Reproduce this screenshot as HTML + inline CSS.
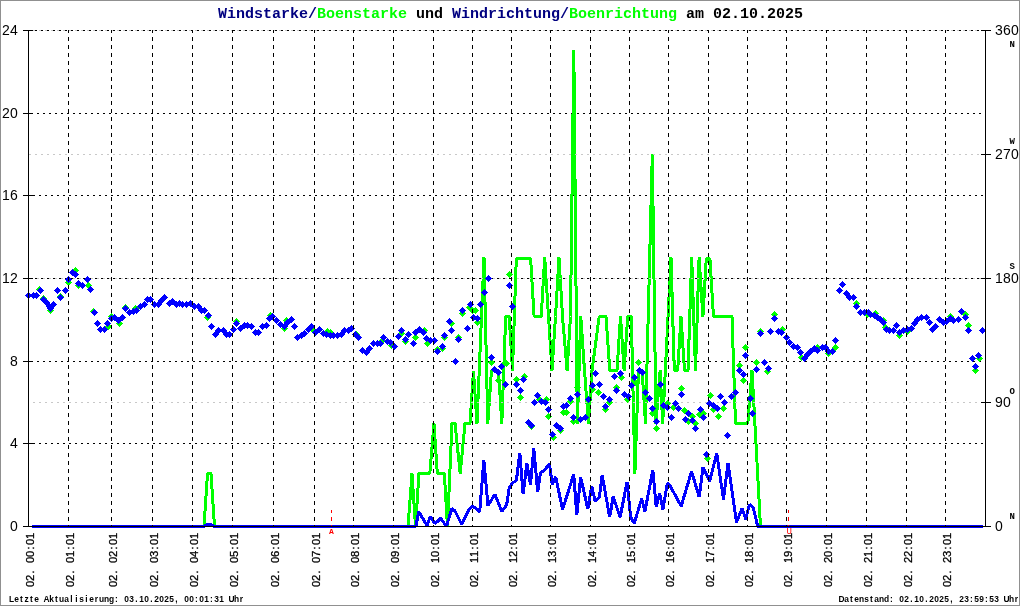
<!DOCTYPE html><html><head><meta charset="utf-8"><style>
html,body{margin:0;padding:0;background:#fff;}svg{display:block;}
.ax{font-family:"Liberation Sans",sans-serif;font-size:14px;fill:#000;}
.tl{font-family:"Liberation Mono",monospace;font-size:15px;font-weight:bold;}
.xl{font-family:"Liberation Sans",sans-serif;font-size:11.2px;fill:#000;stroke:#000;stroke-width:0.3px;}
.ft{font-family:"Liberation Sans",sans-serif;font-size:8.4px;font-weight:bold;fill:#000;}
.cd{font-family:"Liberation Mono",monospace;font-size:9px;font-weight:bold;fill:#000;}
</style></head><body>
<svg width="1020" height="606" viewBox="0 0 1020 606">
<rect x="0" y="0" width="1020" height="606" fill="#fff"/>
<g shape-rendering="crispEdges" fill="#909090">
<rect x="0" y="0" width="1020" height="1"/><rect x="0" y="605" width="1020" height="1"/>
<rect x="0" y="0" width="1" height="606"/><rect x="1019" y="0" width="1" height="606"/>
</g>
<text class="tl" x="218" y="18" textLength="585" lengthAdjust="spacing"><tspan fill="#000080">Windstarke/</tspan><tspan fill="#00ff00">Boenstarke</tspan><tspan fill="#000"> und </tspan><tspan fill="#000080">Windrichtung/</tspan><tspan fill="#00ff00">Boenrichtung</tspan><tspan fill="#000"> am 02.10.2025</tspan></text>
<g shape-rendering="crispEdges" stroke-width="1" fill="none" stroke="#000">
<line x1="29" y1="30.5" x2="985" y2="30.5" stroke-dasharray="2 4" stroke-dashoffset="0"/>
<line x1="29" y1="113.5" x2="985" y2="113.5" stroke-dasharray="2 4" stroke-dashoffset="4"/>
<line x1="29" y1="195.5" x2="985" y2="195.5" stroke-dasharray="2 4" stroke-dashoffset="2"/>
<line x1="29" y1="278.5" x2="985" y2="278.5" stroke-dasharray="2 4" stroke-dashoffset="0"/>
<line x1="29" y1="361.5" x2="985" y2="361.5" stroke-dasharray="2 4" stroke-dashoffset="4"/>
<line x1="29" y1="443.5" x2="985" y2="443.5" stroke-dasharray="2 4" stroke-dashoffset="2"/>
</g>
<g shape-rendering="crispEdges"><polyline points="31.5,526.5 204.0,526.5 207.5,473.5 211.0,473.5 214.5,526.5 408.0,526.5 412.0,473.5 415.5,526.5 419.0,473.5 422.5,473.5 426.0,473.5 429.8,473.5 434.0,423.5 437.3,473.5 440.8,473.5 444.3,473.5 447.5,526.5 452.0,423.5 455.0,423.5 460.2,473.5 465.0,423.5 470.0,423.5 473.5,371.0 477.0,423.5 484.0,257.5 487.8,423.5 491.5,370.5 495.0,370.5 498.5,370.5 501.8,423.5 505.7,316.5 509.2,316.5 512.5,370.5 516.3,258.5 519.9,258.5 523.5,258.5 527.1,258.5 530.6,258.5 534.1,316.5 537.6,316.5 541.2,316.5 544.7,257.5 548.5,316.5 552.0,370.5 555.5,316.5 559.0,257.5 562.5,316.5 567.1,370.5 570.5,316.5 573.8,50.5 577.3,423.5 580.8,316.5 584.5,370.5 588.5,423.5 592.0,370.5 599.2,316.5 602.8,316.5 606.0,316.5 609.8,370.5 613.5,370.5 617.0,370.5 620.5,316.5 624.1,370.5 627.7,316.5 631.3,316.5 634.9,473.5 638.5,370.5 642.1,370.5 645.5,423.5 652.3,154.5 656.0,423.5 660.1,370.5 662.7,423.5 671.0,257.5 674.3,370.5 677.7,370.5 681.0,316.5 684.5,370.5 688.0,370.5 691.7,257.5 695.5,370.5 699.1,257.5 702.9,316.5 706.3,258.5 709.9,258.5 713.5,316.5 732.0,316.5 735.5,423.5 747.8,423.5 752.0,370.5 760.5,526.5 982.5,526.5" fill="none" stroke="#00ff00" stroke-width="3" stroke-linejoin="bevel"/><polyline points="31.5,526.5 204.0,526.5 207.5,524.5 211.0,524.5 214.5,526.5 415.9,526.5 418.7,511.6 427.0,525.5 430.2,516.5 434.6,523.4 437.7,521.3 440.8,518.3 446.4,526.5 451.9,508.6 454.7,510.5 461.6,524.1 469.3,508.9 472.7,506.1 479.7,511.7 483.8,460.1 488.0,505.4 494.9,494.3 501.8,511.7 506.7,504.7 509.2,488.1 512.2,483.2 516.4,480.5 519.8,452.7 523.1,494.3 526.9,463.1 530.5,484.6 533.8,448.6 537.7,492.3 540.5,472.8 544.6,470.1 549.5,463.8 552.2,484.6 555.7,477.0 562.6,509.6 573.7,474.2 576.8,515.1 580.6,477.0 587.8,508.9 591.7,486.0 595.2,501.3 599.4,497.1 602.1,474.9 609.7,517.2 613.2,496.4 620.1,517.2 627.1,481.8 630.6,517.2 634.3,523.4 641.7,498.5 644.9,511.7 652.8,470.1 656.2,506.8 659.7,493.6 662.9,509.6 667.3,483.2 670.1,486.0 681.2,506.1 691.6,471.4 699.2,497.1 703.0,467.3 709.6,481.2 716.7,453.3 723.5,499.4 728.0,463.1 736.5,522.4 742.2,508.2 745.7,519.4 749.5,504.5 753.2,507.3 757.7,526.5 982.5,526.5" fill="none" stroke="#0000ff" stroke-width="3" stroke-linejoin="bevel"/></g>
<g shape-rendering="crispEdges" stroke-width="1" fill="none" stroke="#c8c8c8">
<line x1="29" y1="30.5" x2="985" y2="30.5" stroke-dasharray="2 4" stroke-dashoffset="2"/>
<line x1="29" y1="154.5" x2="985" y2="154.5" stroke-dasharray="2 4" stroke-dashoffset="0"/>
<line x1="29" y1="278.5" x2="985" y2="278.5" stroke-dasharray="2 4" stroke-dashoffset="4"/>
<line x1="29" y1="402.5" x2="985" y2="402.5" stroke-dasharray="2 4" stroke-dashoffset="2"/>
</g>
<g shape-rendering="crispEdges"><path d="M39.5 286L43 289.5L39.5 293L36 289.5ZM43.5 295L47 298.5L43.5 302L40 298.5ZM50.5 307L54 310.5L50.5 314L47 310.5ZM60.5 293L64 296.5L60.5 300L57 296.5ZM68.5 279L72 282.5L68.5 286L65 282.5ZM75.5 267L79 270.5L75.5 274L72 270.5ZM78.5 282L82 285.5L78.5 289L75 285.5ZM88.5 282L92 285.5L88.5 289L85 285.5ZM93.5 308L97 311.5L93.5 315L90 311.5ZM108.5 323L112 326.5L108.5 330L105 326.5ZM111.5 313L115 316.5L111.5 320L108 316.5ZM119.5 320L123 323.5L119.5 327L116 323.5ZM125.5 304L129 307.5L125.5 311L122 307.5ZM135.5 305L139 308.5L135.5 312L132 308.5ZM207.5 314L211 317.5L207.5 321L204 317.5ZM236.5 318L240 321.5L236.5 325L233 321.5ZM270.5 312L274 315.5L270.5 319L267 315.5ZM284.5 325L288 328.5L284.5 332L281 328.5ZM286.5 317L290 320.5L286.5 324L283 320.5ZM312.5 326L316 329.5L312.5 333L309 329.5ZM327.5 328L331 331.5L327.5 335L324 331.5ZM330.5 329L334 332.5L330.5 336L327 332.5ZM356.5 331L360 334.5L356.5 338L353 334.5ZM382.5 337L386 340.5L382.5 344L379 340.5ZM391.5 342L395 345.5L391.5 349L388 345.5ZM401.5 330L405 333.5L401.5 337L398 333.5ZM405.5 338L409 341.5L405.5 345L402 341.5ZM415.5 334L419 337.5L415.5 341L412 337.5ZM424.5 327L428 330.5L424.5 334L421 330.5ZM427.5 340L431 343.5L427.5 347L424 343.5ZM437.5 346L441 349.5L437.5 353L434 349.5ZM442.5 345L446 348.5L442.5 352L439 348.5ZM444.5 334L448 337.5L444.5 341L441 337.5ZM451.5 320L455 323.5L451.5 327L448 323.5ZM458.5 334L462 337.5L458.5 341L455 337.5ZM462.5 310L466 313.5L462.5 317L459 313.5ZM469.5 304L473 307.5L469.5 311L466 307.5ZM472.5 307L476 310.5L472.5 314L469 310.5ZM475.5 307L479 310.5L475.5 314L472 310.5ZM477.5 319L481 322.5L477.5 326L474 322.5ZM491.5 359L495 362.5L491.5 366L488 362.5ZM498.5 377L502 380.5L498.5 384L495 380.5ZM506.5 360L510 363.5L506.5 367L503 363.5ZM509.5 271L513 274.5L509.5 278L506 274.5ZM516.5 376L520 379.5L516.5 383L513 379.5ZM520.5 394L524 397.5L520.5 401L517 397.5ZM524.5 373L528 376.5L524.5 380L521 376.5ZM531.5 423L535 426.5L531.5 430L528 426.5ZM539.5 396L543 399.5L539.5 403L536 399.5ZM546.5 396L550 399.5L546.5 403L543 399.5ZM548.5 413L552 416.5L548.5 420L545 416.5ZM553.5 434L557 437.5L553.5 441L550 437.5ZM560.5 427L564 430.5L560.5 434L557 430.5ZM563.5 409L567 412.5L563.5 416L560 412.5ZM566.5 409L570 412.5L566.5 416L563 412.5ZM570.5 398L574 401.5L570.5 405L567 401.5ZM573.5 418L577 421.5L573.5 425L570 421.5ZM577.5 384L581 387.5L577.5 391L574 387.5ZM592.5 386L596 389.5L592.5 393L589 389.5ZM598.5 389L602 392.5L598.5 396L595 392.5ZM605.5 406L609 409.5L605.5 413L602 409.5ZM609.5 399L613 402.5L609.5 406L606 402.5ZM616.5 384L620 387.5L616.5 391L613 387.5ZM621.5 374L625 377.5L621.5 381L618 377.5ZM627.5 396L631 399.5L627.5 403L624 399.5ZM635.5 379L639 382.5L635.5 386L632 382.5ZM638.5 359L642 362.5L638.5 366L635 362.5ZM652.5 410L656 413.5L652.5 417L649 413.5ZM656.5 425L660 428.5L656.5 432L653 428.5ZM667.5 400L671 403.5L667.5 407L664 403.5ZM673.5 404L677 407.5L673.5 411L670 407.5ZM681.5 385L685 388.5L681.5 392L678 388.5ZM684.5 407L688 410.5L684.5 414L681 410.5ZM688.5 418L692 421.5L688.5 425L685 421.5ZM692.5 413L696 416.5L692.5 420L689 416.5ZM695.5 420L699 423.5L695.5 427L692 423.5ZM699.5 411L703 414.5L699.5 418L696 414.5ZM703.5 410L707 413.5L703.5 417L700 413.5ZM707.5 455L711 458.5L707.5 462L704 458.5ZM710.5 392L714 395.5L710.5 399L707 395.5ZM713.5 406L717 409.5L713.5 413L710 409.5ZM718.5 413L722 416.5L718.5 420L715 416.5ZM723.5 405L727 408.5L723.5 412L720 408.5ZM739.5 362L743 365.5L739.5 369L736 365.5ZM743.5 377L747 380.5L743.5 384L740 380.5ZM745.5 344L749 347.5L745.5 351L742 347.5ZM756.5 359L760 362.5L756.5 366L753 362.5ZM760.5 328L764 331.5L760.5 335L757 331.5ZM767.5 368L771 371.5L767.5 375L764 371.5ZM774.5 311L778 314.5L774.5 318L771 314.5ZM782.5 326L786 329.5L782.5 333L779 329.5ZM801.5 354L805 357.5L801.5 361L798 357.5ZM817.5 344L821 347.5L817.5 351L814 347.5ZM828.5 350L832 353.5L828.5 357L825 353.5ZM835.5 344L839 347.5L835.5 351L832 347.5ZM856.5 300L860 303.5L856.5 307L853 303.5ZM867.5 311L871 314.5L867.5 318L864 314.5ZM875.5 310L879 313.5L875.5 317L872 313.5ZM883.5 317L887 320.5L883.5 324L880 320.5ZM885.5 324L889 327.5L885.5 331L882 327.5ZM899.5 332L903 335.5L899.5 339L896 335.5ZM907.5 328L911 331.5L907.5 335L904 331.5ZM950.5 313L954 316.5L950.5 320L947 316.5ZM965.5 311L969 314.5L965.5 318L962 314.5ZM968.5 322L972 325.5L968.5 329L965 325.5ZM975.5 367L979 370.5L975.5 374L972 370.5ZM979.5 355L983 358.5L979.5 362L976 358.5Z" fill="#00ff00"/><path d="M28.5 292L32 295.5L28.5 299L25 295.5ZM33.5 292L37 295.5L33.5 299L30 295.5ZM36.5 292L40 295.5L36.5 299L33 295.5ZM40.5 287L44 290.5L40.5 294L37 290.5ZM43.5 296L47 299.5L43.5 303L40 299.5ZM46.5 299L50 302.5L46.5 306L43 302.5ZM49.5 303L53 306.5L49.5 310L46 306.5ZM50.5 305L54 308.5L50.5 312L47 308.5ZM53.5 301L57 304.5L53.5 308L50 304.5ZM57.5 287L61 290.5L57.5 294L54 290.5ZM60.5 294L64 297.5L60.5 301L57 297.5ZM65.5 287L69 290.5L65.5 294L62 290.5ZM68.5 276L72 279.5L68.5 283L65 279.5ZM72.5 269L76 272.5L72.5 276L69 272.5ZM75.5 271L79 274.5L75.5 278L72 274.5ZM78.5 280L82 283.5L78.5 287L75 283.5ZM82.5 282L86 285.5L82.5 289L79 285.5ZM87.5 276L91 279.5L87.5 283L84 279.5ZM90.5 286L94 289.5L90.5 293L87 289.5ZM94.5 309L98 312.5L94.5 316L91 312.5ZM97.5 320L101 323.5L97.5 327L94 323.5ZM100.5 326L104 329.5L100.5 333L97 329.5ZM104.5 326L108 329.5L104.5 333L101 329.5ZM107.5 320L111 323.5L107.5 327L104 323.5ZM111.5 315L115 318.5L111.5 322L108 318.5ZM114.5 314L118 317.5L114.5 321L111 317.5ZM118.5 317L122 320.5L118.5 324L115 320.5ZM122.5 314L126 317.5L122.5 321L119 317.5ZM125.5 305L129 308.5L125.5 312L122 308.5ZM129.5 309L133 312.5L129.5 316L126 312.5ZM133.5 308L137 311.5L133.5 315L130 311.5ZM136.5 307L140 310.5L136.5 314L133 310.5ZM140.5 303L144 306.5L140.5 310L137 306.5ZM144.5 301L148 304.5L144.5 308L141 304.5ZM147.5 296L151 299.5L147.5 303L144 299.5ZM150.5 296L154 299.5L150.5 303L147 299.5ZM154.5 301L158 304.5L154.5 308L151 304.5ZM158.5 301L162 304.5L158.5 308L155 304.5ZM161.5 297L165 300.5L161.5 304L158 300.5ZM164.5 294L168 297.5L164.5 301L161 297.5ZM169.5 300L173 303.5L169.5 307L166 303.5ZM172.5 298L176 301.5L172.5 305L169 301.5ZM176.5 301L180 304.5L176.5 308L173 304.5ZM179.5 300L183 303.5L179.5 307L176 303.5ZM182.5 301L186 304.5L182.5 308L179 304.5ZM186.5 301L190 304.5L186.5 308L183 304.5ZM190.5 300L194 303.5L190.5 307L187 303.5ZM194.5 303L198 306.5L194.5 310L191 306.5ZM198.5 303L202 306.5L198.5 310L195 306.5ZM201.5 307L205 310.5L201.5 314L198 310.5ZM204.5 307L208 310.5L204.5 314L201 310.5ZM208.5 312L212 315.5L208.5 319L205 315.5ZM211.5 323L215 326.5L211.5 330L208 326.5ZM215.5 331L219 334.5L215.5 338L212 334.5ZM218.5 327L222 330.5L218.5 334L215 330.5ZM223.5 327L227 330.5L223.5 334L220 330.5ZM226.5 331L230 334.5L226.5 338L223 334.5ZM229.5 331L233 334.5L229.5 338L226 334.5ZM233.5 326L237 329.5L233.5 333L230 329.5ZM236.5 320L240 323.5L236.5 327L233 323.5ZM240.5 325L244 328.5L240.5 332L237 328.5ZM244.5 322L248 325.5L244.5 329L241 325.5ZM247.5 322L251 325.5L247.5 329L244 325.5ZM251.5 323L255 326.5L251.5 330L248 326.5ZM255.5 329L259 332.5L255.5 336L252 332.5ZM258.5 329L262 332.5L258.5 336L255 332.5ZM262.5 323L266 326.5L262.5 330L259 326.5ZM266.5 322L270 325.5L266.5 329L263 325.5ZM269.5 315L273 318.5L269.5 322L266 318.5ZM272.5 313L276 316.5L272.5 320L269 316.5ZM276.5 317L280 320.5L276.5 324L273 320.5ZM280.5 321L284 324.5L280.5 328L277 324.5ZM284.5 323L288 326.5L284.5 330L281 326.5ZM287.5 319L291 322.5L287.5 326L284 322.5ZM291.5 316L295 319.5L291.5 323L288 319.5ZM294.5 323L298 326.5L294.5 330L291 326.5ZM297.5 334L301 337.5L297.5 341L294 337.5ZM301.5 332L305 335.5L301.5 339L298 335.5ZM304.5 330L308 333.5L304.5 337L301 333.5ZM308.5 326L312 329.5L308.5 333L305 329.5ZM311.5 323L315 326.5L311.5 330L308 326.5ZM315.5 329L319 332.5L315.5 336L312 332.5ZM319.5 326L323 329.5L319.5 333L316 329.5ZM323.5 330L327 333.5L323.5 337L320 333.5ZM326.5 331L330 334.5L326.5 338L323 334.5ZM330.5 332L334 335.5L330.5 339L327 335.5ZM333.5 332L337 335.5L333.5 339L330 335.5ZM337.5 332L341 335.5L337.5 339L334 335.5ZM341.5 331L345 334.5L341.5 338L338 334.5ZM344.5 327L348 330.5L344.5 334L341 330.5ZM348.5 327L352 330.5L348.5 334L345 330.5ZM351.5 325L355 328.5L351.5 332L348 328.5ZM355.5 331L359 334.5L355.5 338L352 334.5ZM358.5 334L362 337.5L358.5 341L355 337.5ZM362.5 347L366 350.5L362.5 354L359 350.5ZM366.5 349L370 352.5L366.5 356L363 352.5ZM369.5 345L373 348.5L369.5 352L366 348.5ZM373.5 340L377 343.5L373.5 347L370 343.5ZM377.5 340L381 343.5L377.5 347L374 343.5ZM380.5 340L384 343.5L380.5 347L377 343.5ZM383.5 334L387 337.5L383.5 341L380 337.5ZM387.5 338L391 341.5L387.5 345L384 341.5ZM390.5 339L394 342.5L390.5 346L387 342.5ZM394.5 343L398 346.5L394.5 350L391 346.5ZM398.5 333L402 336.5L398.5 340L395 336.5ZM401.5 327L405 330.5L401.5 334L398 330.5ZM405.5 336L409 339.5L405.5 343L402 339.5ZM408.5 331L412 334.5L408.5 338L405 334.5ZM413.5 340L417 343.5L413.5 347L410 343.5ZM415.5 329L419 332.5L415.5 336L412 332.5ZM419.5 326L423 329.5L419.5 333L416 329.5ZM423.5 329L427 332.5L423.5 336L420 332.5ZM426.5 335L430 338.5L426.5 342L423 338.5ZM430.5 337L434 340.5L430.5 344L427 340.5ZM434.5 337L438 340.5L434.5 344L431 340.5ZM437.5 348L441 351.5L437.5 355L434 351.5ZM442.5 343L446 346.5L442.5 350L439 346.5ZM444.5 332L448 335.5L444.5 339L441 335.5ZM449.5 318L453 321.5L449.5 325L446 321.5ZM451.5 327L455 330.5L451.5 334L448 330.5ZM455.5 358L459 361.5L455.5 365L452 361.5ZM458.5 336L462 339.5L458.5 343L455 339.5ZM462.5 307L466 310.5L462.5 314L459 310.5ZM467.5 325L471 328.5L467.5 332L464 328.5ZM470.5 301L474 304.5L470.5 308L467 304.5ZM473.5 314L477 317.5L473.5 321L470 317.5ZM477.5 315L481 318.5L477.5 322L474 318.5ZM480.5 301L484 304.5L480.5 308L477 304.5ZM484.5 289L488 292.5L484.5 296L481 292.5ZM488.5 275L492 278.5L488.5 282L485 278.5ZM491.5 354L495 357.5L491.5 361L488 357.5ZM494.5 366L498 369.5L494.5 373L491 369.5ZM498.5 369L502 372.5L498.5 376L495 372.5ZM501.5 363L505 366.5L501.5 370L498 366.5ZM505.5 381L509 384.5L505.5 388L502 384.5ZM509.5 282L513 285.5L509.5 289L506 285.5ZM512.5 303L516 306.5L512.5 310L509 306.5ZM516.5 381L520 384.5L516.5 388L513 384.5ZM520.5 387L524 390.5L520.5 394L517 390.5ZM523.5 376L527 379.5L523.5 383L520 379.5ZM528.5 419L532 422.5L528.5 426L525 422.5ZM531.5 422L535 425.5L531.5 429L528 425.5ZM534.5 399L538 402.5L534.5 406L531 402.5ZM537.5 392L541 395.5L537.5 399L534 395.5ZM541.5 398L545 401.5L541.5 405L538 401.5ZM545.5 399L549 402.5L545.5 406L542 402.5ZM548.5 406L552 409.5L548.5 413L545 409.5ZM552.5 431L556 434.5L552.5 438L549 434.5ZM556.5 422L560 425.5L556.5 429L553 425.5ZM560.5 425L564 428.5L560.5 432L557 428.5ZM563.5 403L567 406.5L563.5 410L560 406.5ZM566.5 402L570 405.5L566.5 409L563 405.5ZM570.5 395L574 398.5L570.5 402L567 398.5ZM573.5 414L577 417.5L573.5 421L570 417.5ZM577.5 391L581 394.5L577.5 398L574 394.5ZM580.5 416L584 419.5L580.5 423L577 419.5ZM585.5 414L589 417.5L585.5 421L582 417.5ZM588.5 396L592 399.5L588.5 403L585 399.5ZM592.5 382L596 385.5L592.5 389L589 385.5ZM595.5 370L599 373.5L595.5 377L592 373.5ZM599.5 381L603 384.5L599.5 388L596 384.5ZM603.5 393L607 396.5L603.5 400L600 396.5ZM605.5 403L609 406.5L605.5 410L602 406.5ZM609.5 396L613 399.5L609.5 403L606 399.5ZM614.5 373L618 376.5L614.5 380L611 376.5ZM616.5 387L620 390.5L616.5 394L613 390.5ZM620.5 370L624 373.5L620.5 377L617 373.5ZM624.5 391L628 394.5L624.5 398L621 394.5ZM628.5 393L632 396.5L628.5 400L625 396.5ZM631.5 382L635 385.5L631.5 389L628 385.5ZM634.5 374L638 377.5L634.5 381L631 377.5ZM639.5 367L643 370.5L639.5 374L636 370.5ZM642.5 369L646 372.5L642.5 376L639 372.5ZM645.5 389L649 392.5L645.5 396L642 392.5ZM649.5 395L653 398.5L649.5 402L646 398.5ZM652.5 405L656 408.5L652.5 412L649 408.5ZM656.5 418L660 421.5L656.5 425L653 421.5ZM660.5 381L664 384.5L660.5 388L657 384.5ZM663.5 402L667 405.5L663.5 409L660 405.5ZM667.5 404L671 407.5L667.5 411L664 407.5ZM671.5 414L675 417.5L671.5 421L668 417.5ZM675.5 400L679 403.5L675.5 407L672 403.5ZM678.5 405L682 408.5L678.5 412L675 408.5ZM681.5 391L685 394.5L681.5 398L678 394.5ZM685.5 416L689 419.5L685.5 423L682 419.5ZM688.5 410L692 413.5L688.5 417L685 413.5ZM692.5 417L696 420.5L692.5 424L689 420.5ZM695.5 425L699 428.5L695.5 432L692 428.5ZM700.5 406L704 409.5L700.5 413L697 409.5ZM703.5 414L707 417.5L703.5 421L700 417.5ZM706.5 451L710 454.5L706.5 458L703 454.5ZM709.5 400L713 403.5L709.5 407L706 403.5ZM713.5 402L717 405.5L713.5 409L710 405.5ZM717.5 405L721 408.5L717.5 412L714 408.5ZM720.5 393L724 396.5L720.5 400L717 396.5ZM724.5 399L728 402.5L724.5 406L721 402.5ZM727.5 432L731 435.5L727.5 439L724 435.5ZM731.5 393L735 396.5L731.5 400L728 396.5ZM735.5 389L739 392.5L735.5 396L732 392.5ZM739.5 367L743 370.5L739.5 374L736 370.5ZM743.5 371L747 374.5L743.5 378L740 374.5ZM745.5 352L749 355.5L745.5 359L742 355.5ZM750.5 395L754 398.5L750.5 402L747 398.5ZM752.5 410L756 413.5L752.5 417L749 413.5ZM756.5 366L760 369.5L756.5 373L753 369.5ZM760.5 330L764 333.5L760.5 337L757 333.5ZM764.5 359L768 362.5L764.5 366L761 362.5ZM768.5 365L772 368.5L768.5 372L765 368.5ZM770.5 328L774 331.5L770.5 335L767 331.5ZM774.5 315L778 318.5L774.5 322L771 318.5ZM778.5 328L782 331.5L778.5 335L775 331.5ZM781.5 329L785 332.5L781.5 336L778 332.5ZM786.5 334L790 337.5L786.5 341L783 337.5ZM789.5 339L793 342.5L789.5 346L786 342.5ZM793.5 343L797 346.5L793.5 350L790 346.5ZM797.5 344L801 347.5L797.5 351L794 347.5ZM800.5 349L804 352.5L800.5 356L797 352.5ZM804.5 355L808 358.5L804.5 362L801 358.5ZM807.5 351L811 354.5L807.5 358L804 354.5ZM810.5 348L814 351.5L810.5 355L807 351.5ZM814.5 345L818 348.5L814.5 352L811 348.5ZM817.5 347L821 350.5L817.5 354L814 350.5ZM822.5 344L826 347.5L822.5 351L819 347.5ZM825.5 344L829 347.5L825.5 351L822 347.5ZM828.5 348L832 351.5L828.5 355L825 351.5ZM832.5 348L836 351.5L832.5 355L829 351.5ZM835.5 337L839 340.5L835.5 344L832 340.5ZM839.5 287L843 290.5L839.5 294L836 290.5ZM842.5 281L846 284.5L842.5 288L839 284.5ZM846.5 290L850 293.5L846.5 297L843 293.5ZM849.5 294L853 297.5L849.5 301L846 297.5ZM853.5 294L857 297.5L853.5 301L850 297.5ZM856.5 303L860 306.5L856.5 310L853 306.5ZM860.5 309L864 312.5L860.5 316L857 312.5ZM864.5 309L868 312.5L864.5 316L861 312.5ZM868.5 309L872 312.5L868.5 316L865 312.5ZM870.5 311L874 314.5L870.5 318L867 314.5ZM874.5 312L878 315.5L874.5 319L871 315.5ZM877.5 314L881 317.5L877.5 321L874 317.5ZM880.5 316L884 319.5L880.5 323L877 319.5ZM883.5 319L887 322.5L883.5 326L880 322.5ZM886.5 326L890 329.5L886.5 333L883 329.5ZM889.5 327L893 330.5L889.5 334L886 330.5ZM893.5 327L897 330.5L893.5 334L890 330.5ZM896.5 322L900 325.5L896.5 329L893 325.5ZM899.5 329L903 332.5L899.5 336L896 332.5ZM903.5 327L907 330.5L903.5 334L900 330.5ZM907.5 326L911 329.5L907.5 333L904 329.5ZM911.5 325L915 328.5L911.5 332L908 328.5ZM914.5 320L918 323.5L914.5 327L911 323.5ZM917.5 316L921 319.5L917.5 323L914 319.5ZM921.5 314L925 317.5L921.5 321L918 317.5ZM926.5 314L930 317.5L926.5 321L923 317.5ZM929.5 319L933 322.5L929.5 326L926 322.5ZM932.5 326L936 329.5L932.5 333L929 329.5ZM935.5 323L939 326.5L935.5 330L932 326.5ZM939.5 316L943 319.5L939.5 323L936 319.5ZM943.5 319L947 322.5L943.5 326L940 322.5ZM946.5 318L950 321.5L946.5 325L943 321.5ZM950.5 315L954 318.5L950.5 322L947 318.5ZM953.5 317L957 320.5L953.5 324L950 320.5ZM958.5 316L962 319.5L958.5 323L955 319.5ZM961.5 308L965 311.5L961.5 315L958 311.5ZM965.5 314L969 317.5L965.5 321L962 317.5ZM968.5 327L972 330.5L968.5 334L965 330.5ZM972.5 355L976 358.5L972.5 362L969 358.5ZM975.5 363L979 366.5L975.5 370L972 366.5ZM978.5 352L982 355.5L978.5 359L975 355.5ZM982.5 327L986 330.5L982.5 334L979 330.5Z" fill="#0000ff"/></g>
<g shape-rendering="crispEdges" stroke-width="1" fill="none" stroke="#000">
<line x1="68.5" y1="30" x2="68.5" y2="526" stroke-dasharray="4 4" stroke-dashoffset="1"/>
<line x1="111.5" y1="30" x2="111.5" y2="526" stroke-dasharray="4 4" stroke-dashoffset="1"/>
<line x1="152.5" y1="30" x2="152.5" y2="526" stroke-dasharray="4 4" stroke-dashoffset="1"/>
<line x1="192.5" y1="30" x2="192.5" y2="526" stroke-dasharray="4 4" stroke-dashoffset="1"/>
<line x1="232.5" y1="30" x2="232.5" y2="526" stroke-dasharray="4 4" stroke-dashoffset="1"/>
<line x1="273.5" y1="30" x2="273.5" y2="526" stroke-dasharray="4 4" stroke-dashoffset="1"/>
<line x1="314.5" y1="30" x2="314.5" y2="526" stroke-dasharray="4 4" stroke-dashoffset="1"/>
<line x1="353.5" y1="30" x2="353.5" y2="526" stroke-dasharray="4 4" stroke-dashoffset="1"/>
<line x1="393.5" y1="30" x2="393.5" y2="526" stroke-dasharray="4 4" stroke-dashoffset="1"/>
<line x1="433.5" y1="30" x2="433.5" y2="526" stroke-dasharray="4 4" stroke-dashoffset="1"/>
<line x1="472.5" y1="30" x2="472.5" y2="526" stroke-dasharray="4 4" stroke-dashoffset="1"/>
<line x1="511.5" y1="30" x2="511.5" y2="526" stroke-dasharray="4 4" stroke-dashoffset="1"/>
<line x1="550.5" y1="30" x2="550.5" y2="526" stroke-dasharray="4 4" stroke-dashoffset="1"/>
<line x1="590.5" y1="30" x2="590.5" y2="526" stroke-dasharray="4 4" stroke-dashoffset="1"/>
<line x1="629.5" y1="30" x2="629.5" y2="526" stroke-dasharray="4 4" stroke-dashoffset="1"/>
<line x1="668.5" y1="30" x2="668.5" y2="526" stroke-dasharray="4 4" stroke-dashoffset="1"/>
<line x1="708.5" y1="30" x2="708.5" y2="526" stroke-dasharray="4 4" stroke-dashoffset="1"/>
<line x1="747.5" y1="30" x2="747.5" y2="526" stroke-dasharray="4 4" stroke-dashoffset="1"/>
<line x1="786.5" y1="30" x2="786.5" y2="526" stroke-dasharray="4 4" stroke-dashoffset="1"/>
<line x1="826.5" y1="30" x2="826.5" y2="526" stroke-dasharray="4 4" stroke-dashoffset="1"/>
<line x1="866.5" y1="30" x2="866.5" y2="526" stroke-dasharray="4 4" stroke-dashoffset="1"/>
<line x1="906.5" y1="30" x2="906.5" y2="526" stroke-dasharray="4 4" stroke-dashoffset="1"/>
<line x1="945.5" y1="30" x2="945.5" y2="526" stroke-dasharray="4 4" stroke-dashoffset="1"/>
</g>
<g shape-rendering="crispEdges" fill="none" stroke="#ff0000">
<line x1="331.5" y1="510" x2="331.5" y2="526" stroke-dasharray="4 4" stroke-dashoffset="1"/>
<line x1="788.5" y1="510" x2="788.5" y2="526" stroke-dasharray="4 4" stroke-dashoffset="1"/>
</g>
<text x="329" y="534" style="font-family:Liberation Mono,monospace;font-size:8px;font-weight:bold;fill:#f00">A</text>
<text x="786.5" y="534" style="font-family:Liberation Mono,monospace;font-size:9px;fill:#f00">U</text>
<g shape-rendering="crispEdges" fill="#000">
<rect x="28" y="30" width="1" height="497"/>
<rect x="985" y="30" width="1" height="497"/>
<rect x="23" y="526" width="963" height="1"/>
<rect x="23" y="30" width="10" height="1"/>
<rect x="23" y="113" width="10" height="1"/>
<rect x="23" y="195" width="10" height="1"/>
<rect x="23" y="278" width="10" height="1"/>
<rect x="23" y="361" width="10" height="1"/>
<rect x="23" y="443" width="10" height="1"/>
<rect x="23" y="526" width="10" height="1"/>
<rect x="981" y="30" width="10" height="1"/>
<rect x="981" y="154" width="10" height="1"/>
<rect x="981" y="278" width="10" height="1"/>
<rect x="981" y="402" width="10" height="1"/>
<rect x="981" y="526" width="10" height="1"/>
</g>
<text class="ax" x="6.00 14.00" y="35" text-anchor="middle">24</text>
<text class="ax" x="6.00 14.00" y="118" text-anchor="middle">20</text>
<text class="ax" x="6.00 14.00" y="200" text-anchor="middle">16</text>
<text class="ax" x="6.00 14.00" y="283" text-anchor="middle">12</text>
<text class="ax" x="14.00" y="366" text-anchor="middle">8</text>
<text class="ax" x="14.00" y="448" text-anchor="middle">4</text>
<text class="ax" x="14.00" y="531" text-anchor="middle">0</text>
<text class="ax" x="999.00 1007.00 1015.00" y="35" text-anchor="middle">360</text>
<text class="cd" x="1009.5" y="47">N</text>
<text class="ax" x="999.00 1007.00 1015.00" y="159" text-anchor="middle">270</text>
<text class="cd" x="1009.5" y="144">W</text>
<text class="ax" x="999.00 1007.00 1015.00" y="283" text-anchor="middle">180</text>
<text class="cd" x="1009.5" y="269">S</text>
<text class="ax" x="999.00 1007.00" y="407" text-anchor="middle">90</text>
<text class="cd" x="1009.5" y="394">O</text>
<text class="ax" x="999.00" y="531" text-anchor="middle">0</text>
<text class="cd" x="1009.5" y="519">N</text>
<text class="xl" transform="translate(34,533) rotate(-90)" x="-51.00 -45.00 -39.00 -33.00 -27.00 -21.00 -15.00 -9.00 -3.00" y="0" text-anchor="middle" xml:space="preserve">02. 00:01</text>
<text class="xl" transform="translate(74,533) rotate(-90)" x="-51.00 -45.00 -39.00 -33.00 -27.00 -21.00 -15.00 -9.00 -3.00" y="0" text-anchor="middle" xml:space="preserve">02. 01:01</text>
<text class="xl" transform="translate(117,533) rotate(-90)" x="-51.00 -45.00 -39.00 -33.00 -27.00 -21.00 -15.00 -9.00 -3.00" y="0" text-anchor="middle" xml:space="preserve">02. 02:01</text>
<text class="xl" transform="translate(158,533) rotate(-90)" x="-51.00 -45.00 -39.00 -33.00 -27.00 -21.00 -15.00 -9.00 -3.00" y="0" text-anchor="middle" xml:space="preserve">02. 03:01</text>
<text class="xl" transform="translate(198,533) rotate(-90)" x="-51.00 -45.00 -39.00 -33.00 -27.00 -21.00 -15.00 -9.00 -3.00" y="0" text-anchor="middle" xml:space="preserve">02. 04:01</text>
<text class="xl" transform="translate(238,533) rotate(-90)" x="-51.00 -45.00 -39.00 -33.00 -27.00 -21.00 -15.00 -9.00 -3.00" y="0" text-anchor="middle" xml:space="preserve">02. 05:01</text>
<text class="xl" transform="translate(279,533) rotate(-90)" x="-51.00 -45.00 -39.00 -33.00 -27.00 -21.00 -15.00 -9.00 -3.00" y="0" text-anchor="middle" xml:space="preserve">02. 06:01</text>
<text class="xl" transform="translate(320,533) rotate(-90)" x="-51.00 -45.00 -39.00 -33.00 -27.00 -21.00 -15.00 -9.00 -3.00" y="0" text-anchor="middle" xml:space="preserve">02. 07:01</text>
<text class="xl" transform="translate(359,533) rotate(-90)" x="-51.00 -45.00 -39.00 -33.00 -27.00 -21.00 -15.00 -9.00 -3.00" y="0" text-anchor="middle" xml:space="preserve">02. 08:01</text>
<text class="xl" transform="translate(399,533) rotate(-90)" x="-51.00 -45.00 -39.00 -33.00 -27.00 -21.00 -15.00 -9.00 -3.00" y="0" text-anchor="middle" xml:space="preserve">02. 09:01</text>
<text class="xl" transform="translate(439,533) rotate(-90)" x="-51.00 -45.00 -39.00 -33.00 -27.00 -21.00 -15.00 -9.00 -3.00" y="0" text-anchor="middle" xml:space="preserve">02. 10:01</text>
<text class="xl" transform="translate(478,533) rotate(-90)" x="-51.00 -45.00 -39.00 -33.00 -27.00 -21.00 -15.00 -9.00 -3.00" y="0" text-anchor="middle" xml:space="preserve">02. 11:01</text>
<text class="xl" transform="translate(517,533) rotate(-90)" x="-51.00 -45.00 -39.00 -33.00 -27.00 -21.00 -15.00 -9.00 -3.00" y="0" text-anchor="middle" xml:space="preserve">02. 12:01</text>
<text class="xl" transform="translate(556,533) rotate(-90)" x="-51.00 -45.00 -39.00 -33.00 -27.00 -21.00 -15.00 -9.00 -3.00" y="0" text-anchor="middle" xml:space="preserve">02. 13:01</text>
<text class="xl" transform="translate(596,533) rotate(-90)" x="-51.00 -45.00 -39.00 -33.00 -27.00 -21.00 -15.00 -9.00 -3.00" y="0" text-anchor="middle" xml:space="preserve">02. 14:01</text>
<text class="xl" transform="translate(635,533) rotate(-90)" x="-51.00 -45.00 -39.00 -33.00 -27.00 -21.00 -15.00 -9.00 -3.00" y="0" text-anchor="middle" xml:space="preserve">02. 15:01</text>
<text class="xl" transform="translate(674,533) rotate(-90)" x="-51.00 -45.00 -39.00 -33.00 -27.00 -21.00 -15.00 -9.00 -3.00" y="0" text-anchor="middle" xml:space="preserve">02. 16:01</text>
<text class="xl" transform="translate(714,533) rotate(-90)" x="-51.00 -45.00 -39.00 -33.00 -27.00 -21.00 -15.00 -9.00 -3.00" y="0" text-anchor="middle" xml:space="preserve">02. 17:01</text>
<text class="xl" transform="translate(753,533) rotate(-90)" x="-51.00 -45.00 -39.00 -33.00 -27.00 -21.00 -15.00 -9.00 -3.00" y="0" text-anchor="middle" xml:space="preserve">02. 18:01</text>
<text class="xl" transform="translate(792,533) rotate(-90)" x="-51.00 -45.00 -39.00 -33.00 -27.00 -21.00 -15.00 -9.00 -3.00" y="0" text-anchor="middle" xml:space="preserve">02. 19:01</text>
<text class="xl" transform="translate(832,533) rotate(-90)" x="-51.00 -45.00 -39.00 -33.00 -27.00 -21.00 -15.00 -9.00 -3.00" y="0" text-anchor="middle" xml:space="preserve">02. 20:01</text>
<text class="xl" transform="translate(872,533) rotate(-90)" x="-51.00 -45.00 -39.00 -33.00 -27.00 -21.00 -15.00 -9.00 -3.00" y="0" text-anchor="middle" xml:space="preserve">02. 21:01</text>
<text class="xl" transform="translate(912,533) rotate(-90)" x="-51.00 -45.00 -39.00 -33.00 -27.00 -21.00 -15.00 -9.00 -3.00" y="0" text-anchor="middle" xml:space="preserve">02. 22:01</text>
<text class="xl" transform="translate(951,533) rotate(-90)" x="-51.00 -45.00 -39.00 -33.00 -27.00 -21.00 -15.00 -9.00 -3.00" y="0" text-anchor="middle" xml:space="preserve">02. 23:01</text>
<text class="ft" x="11.50 16.50 21.50 26.50 31.50 36.50 41.50 46.50 51.50 56.50 61.50 66.50 71.50 76.50 81.50 86.50 91.50 96.50 101.50 106.50 111.50 116.50 121.50 126.50 131.50 136.50 141.50 146.50 151.50 156.50 161.50 166.50 171.50 176.50 181.50 186.50 191.50 196.50 201.50 206.50 211.50 216.50 221.50 226.50 231.50 236.50 241.50" y="602" text-anchor="middle" xml:space="preserve">Letzte Aktualisierung: 03.10.2025, 00:01:31 Uhr</text>
<text class="ft" x="841.50 846.50 851.50 856.50 861.50 866.50 871.50 876.50 881.50 886.50 891.50 896.50 901.50 906.50 911.50 916.50 921.50 926.50 931.50 936.50 941.50 946.50 951.50 956.50 961.50 966.50 971.50 976.50 981.50 986.50 991.50 996.50 1001.50 1006.50 1011.50 1016.50" y="602" text-anchor="middle" xml:space="preserve">Datenstand: 02.10.2025, 23:59:53 Uhr</text>
</svg></body></html>
